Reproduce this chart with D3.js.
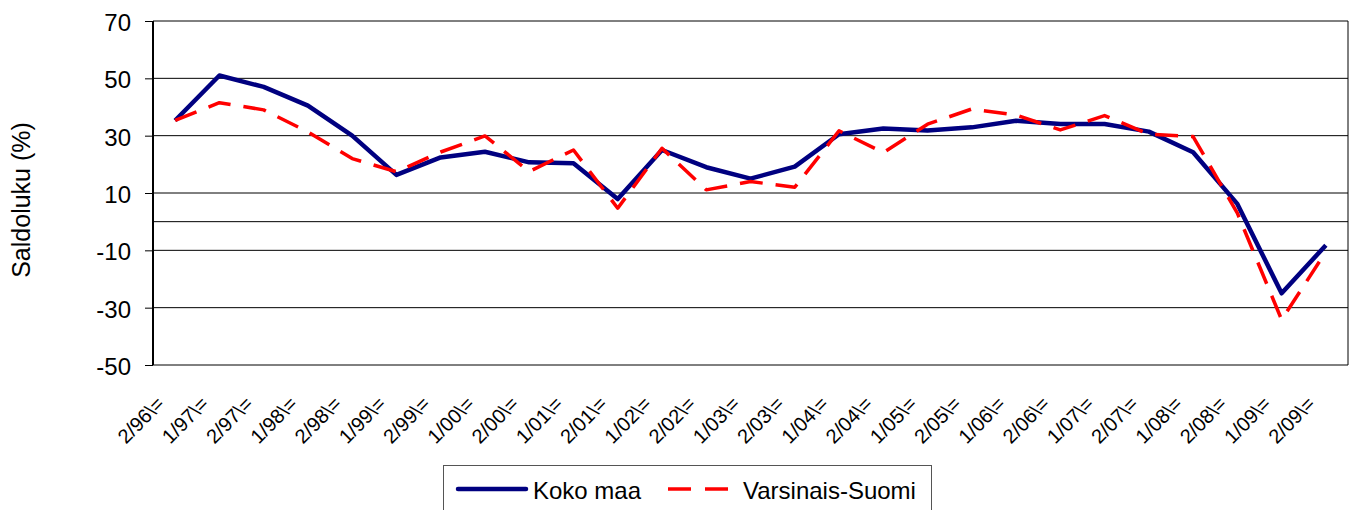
<!DOCTYPE html>
<html>
<head>
<meta charset="utf-8">
<script src="https://cdn.jsdelivr.net/npm/d3@7"></script>
<style>
  html, body { margin: 0; padding: 0; background: #fff; }
  svg { display: block; }
  text { font-family: "Liberation Sans", Arial, sans-serif; fill: #000; }
</style>
</head>
<body>
<svg id="chart" width="1350" height="510"></svg>
<script>
const categories = ["2/96\\=", "1/97\\=", "2/97\\=", "1/98\\=", "2/98\\=", "1/99\\=", "2/99\\=",
  "1/00\\=", "2/00\\=", "1/01\\=", "2/01\\=", "1/02\\=", "2/02\\=", "1/03\\=", "2/03\\=",
  "1/04\\=", "2/04\\=", "1/05\\=", "2/05\\=", "1/06\\=", "2/06\\=", "1/07\\=", "2/07\\=",
  "1/08\\=", "2/08\\=", "1/09\\=", "2/09\\="];
const kokoMaa = [35.3, 51, 47, 40.5, 30, 16.3, 22.4, 24.4, 20.7, 20.4, 7.9, 25, 19, 15, 19.2,
  30.5, 32.5, 31.8, 32.9, 35.2, 34.1, 34.1, 31.4, 24.2, 6.2, -25, -8.2];
const varsinaisSuomi = [35.3, 41.5, 39, 31.3, 22, 17.4, 24.3, 29.9, 17.5, 25, 4.7, 25.6, 11.1, 14, 12,
  31.7, 24.1, 34, 39.3, 37.2, 32, 37, 30.5, 29.7, 3, -34.2, -10.5];
const yTicks = [-50, -30, -10, 10, 30, 50, 70];
const yTitle = "Saldoluku (%)";
const seriesNames = ["Koko maa", "Varsinais-Suomi"];

const svg = d3.select("#chart");
const pLeft = 153, pRight = 1348, pTop = 21, pBottom = 365;

const x = d3.scalePoint().domain(categories).range([pLeft, pRight]).padding(0.5);
const y = d3.scaleLinear().domain([-50, 70]).range([pBottom, pTop]);

// gridlines (including zero line)
svg.append("g").selectAll("line")
  .data(yTicks.concat([0]))
  .join("line")
  .attr("x1", pLeft).attr("x2", pRight)
  .attr("y1", d => y(d)).attr("y2", d => y(d))
  .attr("stroke", "#000").attr("stroke-width", 1);

// right border
svg.append("line")
  .attr("x1", pRight).attr("x2", pRight)
  .attr("y1", y(70)).attr("y2", y(-50))
  .attr("stroke", "#000").attr("stroke-width", 1);

// y axis
const yAxis = svg.append("g")
  .attr("transform", `translate(${pLeft},0)`)
  .call(d3.axisLeft(y).tickValues(yTicks).tickSize(8).tickPadding(14).tickFormat(d => String(d)));
yAxis.select(".domain").remove();
yAxis.selectAll(".tick line").attr("stroke", "#000").attr("stroke-width", 1);
yAxis.selectAll(".tick text")
  .attr("font-size", 24)
  .attr("dy", "0.4em")
  .style("font-family", "'Liberation Sans', Arial, sans-serif");
svg.append("line")
  .attr("x1", pLeft).attr("x2", pLeft)
  .attr("y1", y(70)).attr("y2", y(-50))
  .attr("stroke", "#000").attr("stroke-width", 2);

// x axis labels
const xAxis = svg.append("g")
  .attr("transform", `translate(0,${pBottom})`)
  .call(d3.axisBottom(x).tickSize(0));
xAxis.select(".domain").remove();
xAxis.selectAll(".tick text")
  .attr("x", 0).attr("y", 0).attr("dy", 0)
  .attr("text-anchor", "end")
  .attr("transform", "translate(-10,40) rotate(-45)")
  .attr("font-size", 20)
  .style("font-family", "'Liberation Sans', Arial, sans-serif");

// y title
svg.append("text")
  .attr("transform", "translate(30,200) rotate(-90)")
  .attr("text-anchor", "middle")
  .attr("font-size", 25)
  .text(yTitle);

// lines
const line = d3.line()
  .x((d, i) => x(categories[i]))
  .y(d => y(d));

svg.append("path")
  .datum(kokoMaa)
  .attr("d", line)
  .attr("fill", "none")
  .attr("stroke", "#000080")
  .attr("stroke-width", 4.5)
  .attr("stroke-linejoin", "round");

svg.append("path")
  .datum(varsinaisSuomi)
  .attr("d", line)
  .attr("fill", "none")
  .attr("stroke", "#ff0000")
  .attr("stroke-width", 3.5)
  .attr("stroke-dasharray", "23,13")
  .attr("stroke-linejoin", "round");

// legend
const lg = svg.append("g");
lg.append("rect")
  .attr("x", 443.5).attr("y", 465.5)
  .attr("width", 488).attr("height", 70)
  .attr("fill", "#fff").attr("stroke", "#555").attr("stroke-width", 1);
lg.append("line")
  .attr("x1", 458).attr("x2", 526).attr("y1", 489).attr("y2", 489)
  .attr("stroke", "#000080").attr("stroke-width", 4.5).attr("stroke-linecap", "round");
lg.append("text").attr("x", 533).attr("y", 499).attr("font-size", 24).text(seriesNames[0]);
lg.append("line")
  .attr("x1", 668).attr("x2", 728).attr("y1", 489).attr("y2", 489)
  .attr("stroke", "#ff0000").attr("stroke-width", 3.5).attr("stroke-dasharray", "23,14");
lg.append("text").attr("x", 743).attr("y", 499).attr("font-size", 24).text(seriesNames[1]);
</script>
</body>
</html>
